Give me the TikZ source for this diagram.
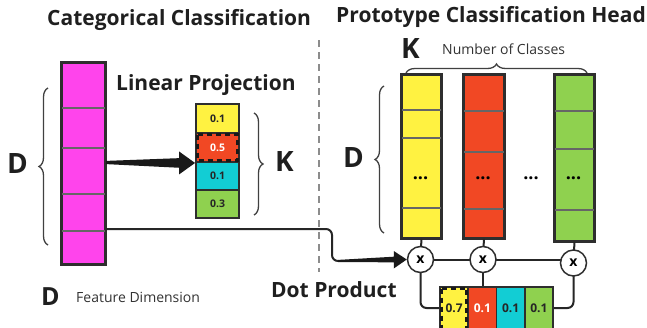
\documentclass[tikz,border=0pt]{standalone}
\usepackage{fontspec}
\setmainfont{Open Sans}
\usetikzlibrary{decorations.pathreplacing,calc}
\definecolor{cmag}{HTML}{FF44EC}
\definecolor{cyel}{HTML}{FFF241}
\definecolor{cred}{HTML}{F14824}
\definecolor{ccya}{HTML}{12CDD4}
\definecolor{cgrn}{HTML}{8FD14F}
\definecolor{cedge}{HTML}{2E2E2E}
\begin{document}
\begin{tikzpicture}[x=1pt,y=-1pt,
  outl/.style={draw=cedge, line width=1.9pt},
  colbox/.style={outl, inner sep=0pt, anchor=north west},
  cell/.style={outl, inner sep=0pt, font=\fontsize{10.5}{12}\selectfont\bfseries, text=black!85},
  bcell/.style={outl, inner sep=0pt, font=\fontsize{12}{14}\selectfont\bfseries, text=black!85},
  sep/.style={draw=black!60, line width=1.1pt},
  ttl/.style={font=\fontsize{21}{24}\selectfont\bfseries, text=black!88, inner sep=0pt},
  big/.style={font=\fontsize{28}{30}\selectfont\bfseries, text=black!88, inner sep=0pt},
  small/.style={font=\fontsize{14}{16}\selectfont, text=black!80, inner sep=0pt},
  brc/.style={draw=black!75, line width=1.3pt, decorate, decoration={brace, amplitude=#1}},
  conn/.style={draw=black!85, line width=2pt},
  mult/.style={circle, draw=cedge, line width=1.5pt, fill=white, minimum size=26pt, inner sep=0pt, font=\fontsize{14}{16}\selectfont\bfseries},
  dots/.style={font=\fontsize{18}{18}\selectfont\bfseries, inner sep=0pt},
  inset/.style={draw=black!90, line width=2.4pt, dash pattern=on 5pt off 4pt}
]
\clip (0,0) rectangle (647,327);
\fill[white] (0,0) rectangle (647,327);

% titles
\node[ttl, anchor=west] (t1) at (47,20) {Categorical Classification};
\node[ttl, anchor=west] (t2) at (336,17) {Prototype Classification Head};
\node[ttl, anchor=west] (t3) at (116,85) {Linear Projection};
\node[ttl, anchor=west] (t4) at (271,290) {Dot Product};

% dashed separator
\coordinate (s1) at (319,40);
\coordinate (s2) at (319,272);
\draw[draw=black!45, line width=2.2pt, dash pattern=on 7pt off 5pt] (s1) -- (s2);

% feature column
\node[colbox, fill=cmag, minimum width=43pt, minimum height=201pt] (feat) at (61,62) {};
\foreach \yy in {108,148,194,231} \draw[sep] (feat.west |- 0,\yy) -- (feat.east |- 0,\yy);
\draw[outl, fill=none] (feat.north west) rectangle (feat.south east);

% left brace and D
\coordinate (lb1) at (48,245);
\coordinate (lb2) at (48,88);
\draw[brc=9pt] (lb1) -- (lb2);
\node[big, anchor=west] (dl) at (7,164) {D};

% projection column
\node[cell, fill=cyel, minimum width=43pt, minimum height=29pt] (p1) at (217.5,118.5) {0.1};
\node[cell, fill=cred, minimum width=43pt, minimum height=29pt, text=white] (p2) at (217.5,147.5) {0.5};
\node[cell, fill=ccya, minimum width=43pt, minimum height=28pt] (p3) at (217.5,176) {0.1};
\node[cell, fill=cgrn, minimum width=43pt, minimum height=28pt] (p4) at (217.5,204) {0.3};
\draw[inset] ($(p2.north west)+(2.5,2.5)$) rectangle ($(p2.south east)+(-2.5,-2.5)$);

% K brace
\coordinate (kb1) at (254,113);
\coordinate (kb2) at (254,215);
\draw[brc=9pt] (kb1) -- (kb2);
\node[big, anchor=west] (kl) at (275,162) {K};

% tapered arrow 1
\coordinate (a1s) at (feat.east |- 0,162.5);
\coordinate (a1e) at (p2.south west);
\fill[black!90] ($(a1s)+(0,-1.6)$) -- ($(a1e)+(-16,-4.8)$) -- ($(a1e)+(-16,-11.5)$) -- (a1e) -- ($(a1e)+(-16,11.5)$) -- ($(a1e)+(-16,4.8)$) -- ($(a1s)+(0,1.6)$) -- cycle;

% D feature dimension
\node[font=\fontsize{25}{28}\selectfont\bfseries, text=black!88, inner sep=0pt, anchor=west] (dfd) at (41,297) {D};
\node[small, anchor=west] (fd) at (76,297) {Feature Dimension};

% prototype head
\node[big, anchor=west] (kt) at (401,49) {K};
\node[small, anchor=west] (nc) at (442,49) {Number of Classes};
\coordinate (tb1) at (406,73);
\coordinate (tb2) at (587,73);
\draw[brc=9pt] (tb1) -- (tb2);

\node[colbox, fill=cyel, minimum width=39pt, minimum height=163pt] (yc) at (401,74) {};
\foreach \yy in {110,138,208} \draw[sep] (yc.west |- 0,\yy) -- (yc.east |- 0,\yy);
\draw[outl] (yc.north west) rectangle (yc.south east);
\node[dots] (yd) at (420.5,178) {...};

\node[colbox, fill=cred, minimum width=40pt, minimum height=163pt] (rc) at (463,74) {};
\foreach \yy in {111,152,209} \draw[sep] (rc.west |- 0,\yy) -- (rc.east |- 0,\yy);
\draw[outl] (rc.north west) rectangle (rc.south east);
\node[dots] (rd) at (483,178) {...};

\node[dots] (md) at (531,178) {...};

\node[colbox, fill=cgrn, minimum width=39pt, minimum height=166pt] (gc) at (554,74) {};
\foreach \yy in {111,149,210} \draw[sep] (gc.west |- 0,\yy) -- (gc.east |- 0,\yy);
\draw[outl] (gc.north west) rectangle (gc.south east);
\node[dots] (gd) at (573.5,178) {...};

% right D brace
\coordinate (rb1) at (384,233);
\coordinate (rb2) at (384,86);
\draw[brc=9pt] (rb1) -- (rb2);
\node[big, anchor=west] (dr) at (343,158) {D};

% connectors (drawn first, nodes on top)
\coordinate (m1c) at (420.5,259.5);
\coordinate (m2c) at (483,259.5);
\coordinate (m3c) at (573.5,263);
\draw[conn] (yc.south) -- (m1c);
\draw[conn] (rc.south) -- (m2c);
\draw[conn] (gc.south) -- (m3c);
\draw[conn] (m1c) -- (m2c) -- (m3c |- m2c) -- (m3c);
\draw[conn] (m2c) -- (483,290);
\draw[conn, rounded corners=6pt] (m1c) |- (441,308);
\draw[conn, rounded corners=6pt] (m3c) |- (552,308);

% multipliers
\node[mult] (m1) at (m1c) {x};
\node[mult] (m2) at (m2c) {x};
\node[mult] (m3) at (m3c) {x};

% output bar
\node[bcell, fill=cyel, minimum width=28.25pt, minimum height=42pt] (o1) at (454.1,308) {0.7};
\node[bcell, fill=cred, minimum width=28.25pt, minimum height=42pt, text=white] (o2) at (482.4,308) {0.1};
\node[bcell, fill=ccya, minimum width=28.25pt, minimum height=42pt] (o3) at (510.6,308) {0.1};
\node[bcell, fill=cgrn, minimum width=28.25pt, minimum height=42pt] (o4) at (538.9,308) {0.1};
\draw[inset] ($(o1.north west)+(2.5,2.5)$) -- ($(o1.south west)+(2.5,0)$);
\draw[inset] ($(o1.north west)+(2.5,2.5)$) -- ($(o1.north east)+(-2.5,2.5)$) -- ($(o1.south east)+(-2.5,0)$);

% long connector with tapered arrow
\coordinate (l0) at (feat.east |- 0,229);
\coordinate (lc) at (332,261);
\coordinate (a2s) at (338,261);
\coordinate (a2e) at (m1.west);
\draw[conn, rounded corners=6pt] (l0) -| (lc) -- (a2s);
\fill[black!90] ($(a2s)+(0,-1.1)$) -- ($(a2e)+(-13,-2.8)$) -- ($(a2e)+(-13,-8.5)$) -- (a2e) -- ($(a2e)+(-13,9)$) -- ($(a2e)+(-13,2.8)$) -- ($(a2s)+(0,1.1)$) -- cycle;

\end{tikzpicture}
\end{document}
